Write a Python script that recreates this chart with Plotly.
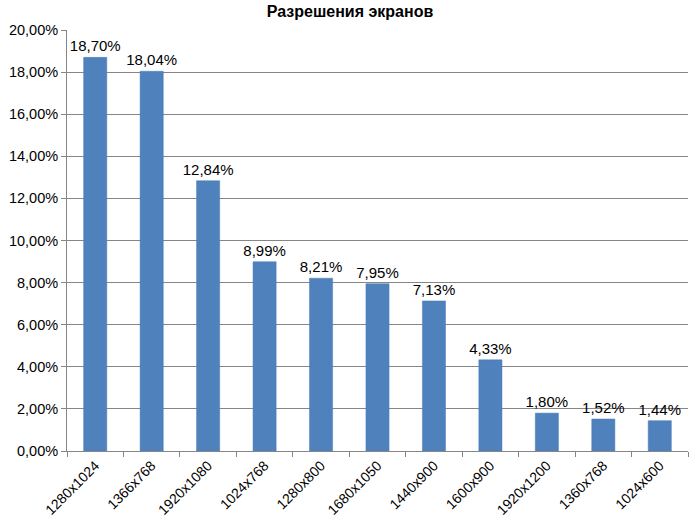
import plotly.graph_objects as go

categories = ["1280x1024", "1366x768", "1920x1080", "1024x768", "1280x800", "1680x1050",
              "1440x900", "1600x900", "1920x1200", "1360x768", "1024x600"]
values = [18.70, 18.04, 12.84, 8.99, 8.21, 7.95, 7.13, 4.33, 1.80, 1.52, 1.44]
title = "Разрешения экранов"

fig = go.Figure(go.Bar(
    x=categories, y=values,
    marker=dict(color="#4F81BD", line=dict(color="#4A7EBB", width=0.5)),
    texttemplate="%{y:.2f}%", textposition="outside", cliponaxis=False,
    constraintext="none",
    textfont=dict(family="Arial, Liberation Sans", size=15, color="#000000"),
))

fig.update_layout(
    title=dict(text="<b>" + title + "</b>", x=0.5, xanchor="center", y=0.979, yanchor="middle",
               font=dict(family="Arial, Liberation Sans", size=16, color="#000000")),
    width=700, height=524,
    margin=dict(l=67, r=12, t=30, b=73, autoexpand=False),
    paper_bgcolor="white", plot_bgcolor="white",
    separators=", ",
    bargap=0.59,
    showlegend=False,
    font=dict(family="Arial, Liberation Sans", size=14, color="#000000"),
)
fig.update_yaxes(range=[0, 20], dtick=2, tickformat=".2f", ticksuffix="%",
                 showgrid=True, gridcolor="#868686", gridwidth=1,
                 showline=True, linecolor="#868686", ticks="outside", ticklen=5,
                 tickcolor="#868686", zeroline=False, automargin=False,
                 tickfont=dict(family="Arial, Liberation Sans", size=14.5))
fig.update_xaxes(tickangle=-45, showline=True, linecolor="#868686",
                 ticks="outside", tickson="boundaries", ticklen=5, tickcolor="#868686",
                 automargin=False,
                 tickfont=dict(family="Arial, Liberation Sans", size=14))

fig.write_html("out.html")
